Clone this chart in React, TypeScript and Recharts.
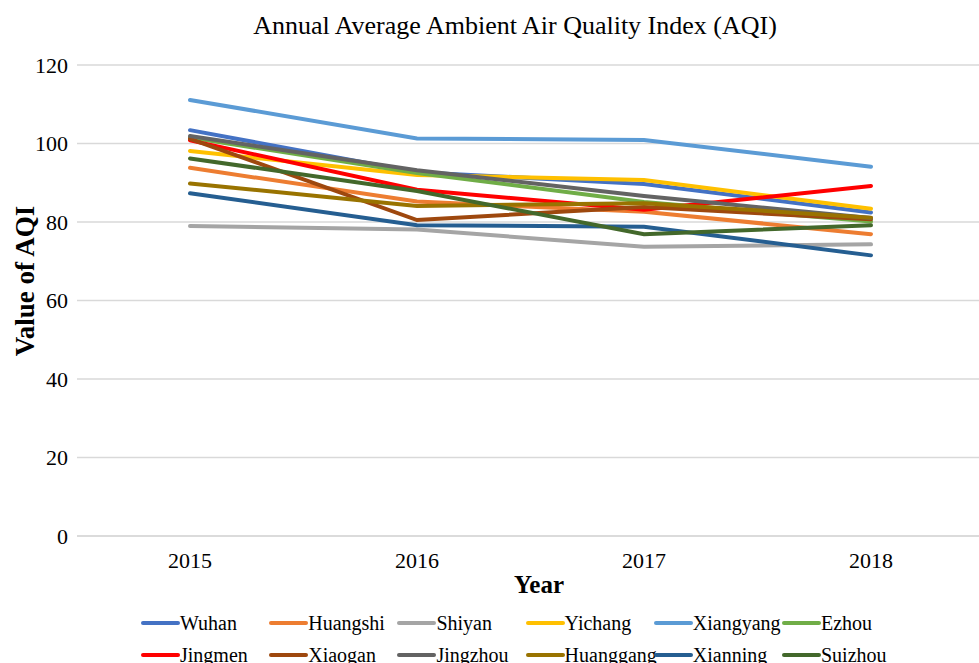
import React from "react";
import { LineChart, Line, XAxis, YAxis, CartesianGrid } from "recharts";

const YEARS = ["2015", "2016", "2017", "2018"];
const Y_TICKS = [0, 20, 40, 60, 80, 100, 120];

const WUHAN = [103.4, 92.7, 89.7, 82.4];
const HUANGSHI = [93.8, 85.2, 82.6, 76.9];
const SHIYAN = [79.0, 78.1, 73.7, 74.3];
const YICHANG = [98.1, 92.0, 90.7, 83.4];
const XIANGYANG = [111.1, 101.3, 100.9, 94.1];
const EZHOU = [101.5, 92.5, 85.1, 80.1];
const JINGMEN = [100.8, 88.2, 83.1, 89.2];
const XIAOGAN = [101.2, 80.5, 83.8, 80.7];
const JINGZHOU = [101.9, 93.2, 86.6, 81.0];
const HUANGGANG = [89.8, 84.1, 84.8, 81.1];
const XIANNING = [87.3, 79.2, 78.8, 71.5];
const SUIZHOU = [96.2, 87.9, 76.9, 79.2];

const SERIES = [
  { key: "Wuhan", values: WUHAN, color: "#4472C4" },
  { key: "Huangshi", values: HUANGSHI, color: "#ED7D31" },
  { key: "Shiyan", values: SHIYAN, color: "#A5A5A5" },
  { key: "Yichang", values: YICHANG, color: "#FFC000" },
  { key: "Xiangyang", values: XIANGYANG, color: "#5B9BD5" },
  { key: "Ezhou", values: EZHOU, color: "#70AD47" },
  { key: "Jingmen", values: JINGMEN, color: "#FF0000" },
  { key: "Xiaogan", values: XIAOGAN, color: "#9E480E" },
  { key: "Jingzhou", values: JINGZHOU, color: "#636363" },
  { key: "Huanggang", values: HUANGGANG, color: "#997300" },
  { key: "Xianning", values: XIANNING, color: "#255E91" },
  { key: "Suizhou", values: SUIZHOU, color: "#43682B" },
];

const FONT = "'Liberation Serif', 'Times New Roman', serif";

const data = YEARS.map((year, i) => {
  const row: Record<string, string | number> = { year };
  for (const s of SERIES) row[s.key] = s.values[i];
  return row;
});

// legend: 2 rows x 6, packed tight like the Excel original
function AqiLegend() {
  return (
    <div style={{ position: "absolute", left: 0, top: 611, width: 979, height: 60, fontFamily: FONT }}>
      {SERIES.map((s, i) => {
        const row = Math.floor(i / 6);
        const col = i % 6;
        return (
          <div
            key={s.key}
            style={{
              position: "absolute",
              left: 141 + col * 128.2,
              top: row * 32,
              display: "flex",
              alignItems: "center",
              height: 24,
              whiteSpace: "nowrap",
            }}
          >
            <span style={{ display: "inline-block", width: 39, height: 4, background: s.color, borderRadius: 2 }} />
            <span style={{ fontSize: 20, color: "#000" }}>{s.key}</span>
          </div>
        );
      })}
    </div>
  );
}

export default function App() {
  return (
    <div style={{ position: "absolute", left: 0, top: 0, width: 979, height: 663, overflow: "hidden", background: "#fff" }}>
      <div style={{ position: "absolute", left: 0, top: 11, width: 1030, textAlign: "center", fontFamily: FONT, fontSize: 26, color: "#000" }}>
        Annual Average Ambient Air Quality Index (AQI)
      </div>
      <LineChart width={984} height={663} data={data} margin={{ top: 65, right: 0, left: 29, bottom: 0 }}>
        <CartesianGrid vertical={false} stroke="#d9d9d9" strokeWidth={1.5} />
        <XAxis
          dataKey="year"
          height={127}
          padding={{ left: 113, right: 113 }}
          tickLine={false}
          axisLine={{ stroke: "#d9d9d9", strokeWidth: 1.5 }}
          tickMargin={10}
          tick={{ fontFamily: FONT, fontSize: 22, fill: "#000" }}
        />
        <YAxis
          domain={[0, 120]}
          ticks={Y_TICKS}
          width={48}
          tickLine={false}
          axisLine={false}
          tickMargin={3}
          tick={{ fontFamily: FONT, fontSize: 22, fill: "#000" }}
        />
        {SERIES.map((s) => (
          <Line
            key={s.key}
            type="linear"
            dataKey={s.key}
            stroke={s.color}
            strokeWidth={4}
            strokeLinecap="round"
            dot={false}
            isAnimationActive={false}
          />
        ))}
      </LineChart>
      <div style={{ position: "absolute", left: 539, top: 585, transform: "translate(-50%, -50%)", fontFamily: FONT, fontSize: 25, fontWeight: "bold", color: "#000" }}>
        Year
      </div>
      <div
        style={{
          position: "absolute",
          left: 25,
          top: 281,
          transform: "translate(-50%, -50%) rotate(-90deg)",
          fontFamily: FONT,
          fontSize: 27,
          fontWeight: "bold",
          color: "#000",
          whiteSpace: "nowrap",
        }}
      >
        Value of AQI
      </div>
      <AqiLegend />
    </div>
  );
}
